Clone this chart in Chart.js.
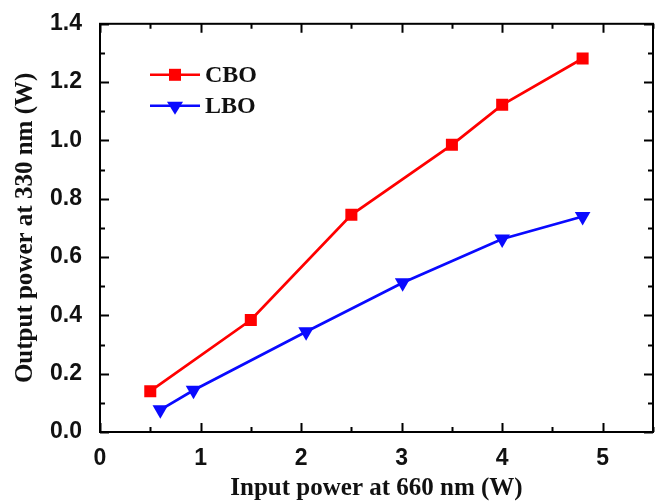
<!DOCTYPE html>
<html>
<head>
<meta charset="utf-8">
<script src="https://cdn.jsdelivr.net/npm/chart.js"></script>
<style>
  html, body { margin: 0; padding: 0; background: #fff; }
  #myChart { display: block; }
</style>
</head>
<body>
<canvas id="myChart" width="662" height="501"></canvas>
<script>
// data
const cboInput = [0.5, 1.5, 2.5, 3.5, 4.0, 4.8];
const cboOutput = [0.14, 0.384, 0.745, 0.985, 1.122, 1.281];
const lboInput = [0.6, 0.93, 2.05, 3.01, 4.0, 4.8];
const lboOutput = [0.076, 0.143, 0.344, 0.512, 0.662, 0.739];

const xTickValues = [0, 1, 2, 3, 4, 5];
const xTitle = "Input power at 660 nm (W)";
const yTitle = "Output power at 330 nm (W)";

const toPoints = (xs, ys) => xs.map((x, i) => ({ x: x, y: ys[i] }));

const serif = "'Liberation Serif', 'Times New Roman', serif";
const sans = "'Liberation Sans', Arial, sans-serif";

// box + inward ticks on all four sides (major and minor)
const frameTicks = {
  id: "frameTicks",
  afterDraw(chart) {
    const ctx = chart.ctx;
    const { left, right, top, bottom } = chart.chartArea;
    const xs = chart.scales.x;
    const ys = chart.scales.y;
    ctx.save();
    ctx.strokeStyle = "#000";
    ctx.lineWidth = 2;
    ctx.beginPath();
    for (let i = 0; i <= 11; i++) {
      const v = i * 0.5;
      const len = i % 2 === 0 ? 9 : 5;
      const px = Math.round(xs.getPixelForValue(v)) + 0.5;
      ctx.moveTo(px, bottom);
      ctx.lineTo(px, bottom - len);
      ctx.moveTo(px, top);
      ctx.lineTo(px, top + len);
    }
    for (let i = 0; i <= 14; i++) {
      const v = i * 0.1;
      const len = i % 2 === 0 ? 9 : 5;
      const py = Math.round(ys.getPixelForValue(v)) + 0.5;
      ctx.moveTo(left, py);
      ctx.lineTo(left + len, py);
      ctx.moveTo(right, py);
      ctx.lineTo(right - len, py);
    }
    ctx.stroke();
    ctx.strokeRect(left, top, right - left, bottom - top);
    ctx.restore();
  },
};

// legend in the upper left of the plot
const insideLegend = {
  id: "insideLegend",
  afterDraw(chart) {
    const ctx = chart.ctx;
    const { left, top } = chart.chartArea;
    ctx.save();
    chart.data.datasets.forEach((ds, i) => {
      const y = top + 51 + i * 31;
      const x0 = left + 50;
      ctx.strokeStyle = ds.borderColor;
      ctx.lineWidth = 2.5;
      ctx.beginPath();
      ctx.moveTo(x0, y);
      ctx.lineTo(x0 + 50, y);
      ctx.stroke();
      ctx.fillStyle = ds.borderColor;
      ctx.beginPath();
      if (ds.pointStyle === "rect") {
        ctx.rect(x0 + 19, y - 6, 12, 12);
      } else {
        ctx.moveTo(x0 + 17, y - 4);
        ctx.lineTo(x0 + 33, y - 4);
        ctx.lineTo(x0 + 25, y + 9);
        ctx.closePath();
      }
      ctx.fill();
      ctx.fillStyle = "#111";
      ctx.font = "bold 24px " + serif;
      ctx.textBaseline = "middle";
      ctx.fillText(ds.label, x0 + 55, y + 1);
    });
    ctx.restore();
  },
};

const config = {
  type: "line",
  data: {
    datasets: [
      {
        label: "CBO",
        data: toPoints(cboInput, cboOutput),
        borderColor: "#ff0000",
        backgroundColor: "#ff0000",
        borderWidth: 2.7,
        pointStyle: "rect",
        pointRadius: 8.5,
        pointBorderWidth: 0,
      },
      {
        label: "LBO",
        data: toPoints(lboInput, lboOutput),
        borderColor: "#0a0aff",
        backgroundColor: "#0a0aff",
        borderWidth: 2.7,
        pointStyle: "triangle",
        pointRotation: 180,
        pointRadius: 9,
        pointBorderWidth: 0,
      },
    ],
  },
  options: {
    responsive: false,
    animation: false,
    layout: { padding: { top: 21, right: 9, left: 0, bottom: 0 } },
    plugins: {
      legend: { display: false },
      tooltip: { enabled: false },
    },
    scales: {
      x: {
        type: "linear",
        min: 0,
        max: 5.5,
        grid: { display: false },
        border: { display: false },
        ticks: {
          padding: 5,
          color: "#111",
          font: { family: sans, size: 23, weight: "bold" },
        },
        afterBuildTicks: (scale) => {
          scale.ticks = xTickValues.map((v) => ({ value: v }));
        },
        afterFit: (scale) => {
          scale.height = 69;
        },
        title: {
          display: true,
          text: xTitle,
          color: "#111",
          padding: { top: 0, bottom: 0 },
          font: { family: serif, size: 25, weight: "bold", lineHeight: 1.0 },
        },
      },
      y: {
        min: 0,
        max: 1.4,
        grid: { display: false },
        border: { display: false },
        ticks: {
          stepSize: 0.2,
          padding: 10,
          color: "#111",
          font: { family: sans, size: 23, weight: "bold" },
          callback: (v) => v.toFixed(1),
        },
        afterFit: (scale) => {
          scale.width = 100;
        },
        title: {
          display: true,
          text: yTitle,
          color: "#111",
          padding: { top: 11, bottom: 0 },
          font: { family: serif, size: 25, weight: "bold" },
        },
      },
    },
  },
  plugins: [frameTicks, insideLegend],
};

const context = document.getElementById("myChart").getContext("2d");
const chart = new Chart(context, config);
</script>
</body>
</html>
